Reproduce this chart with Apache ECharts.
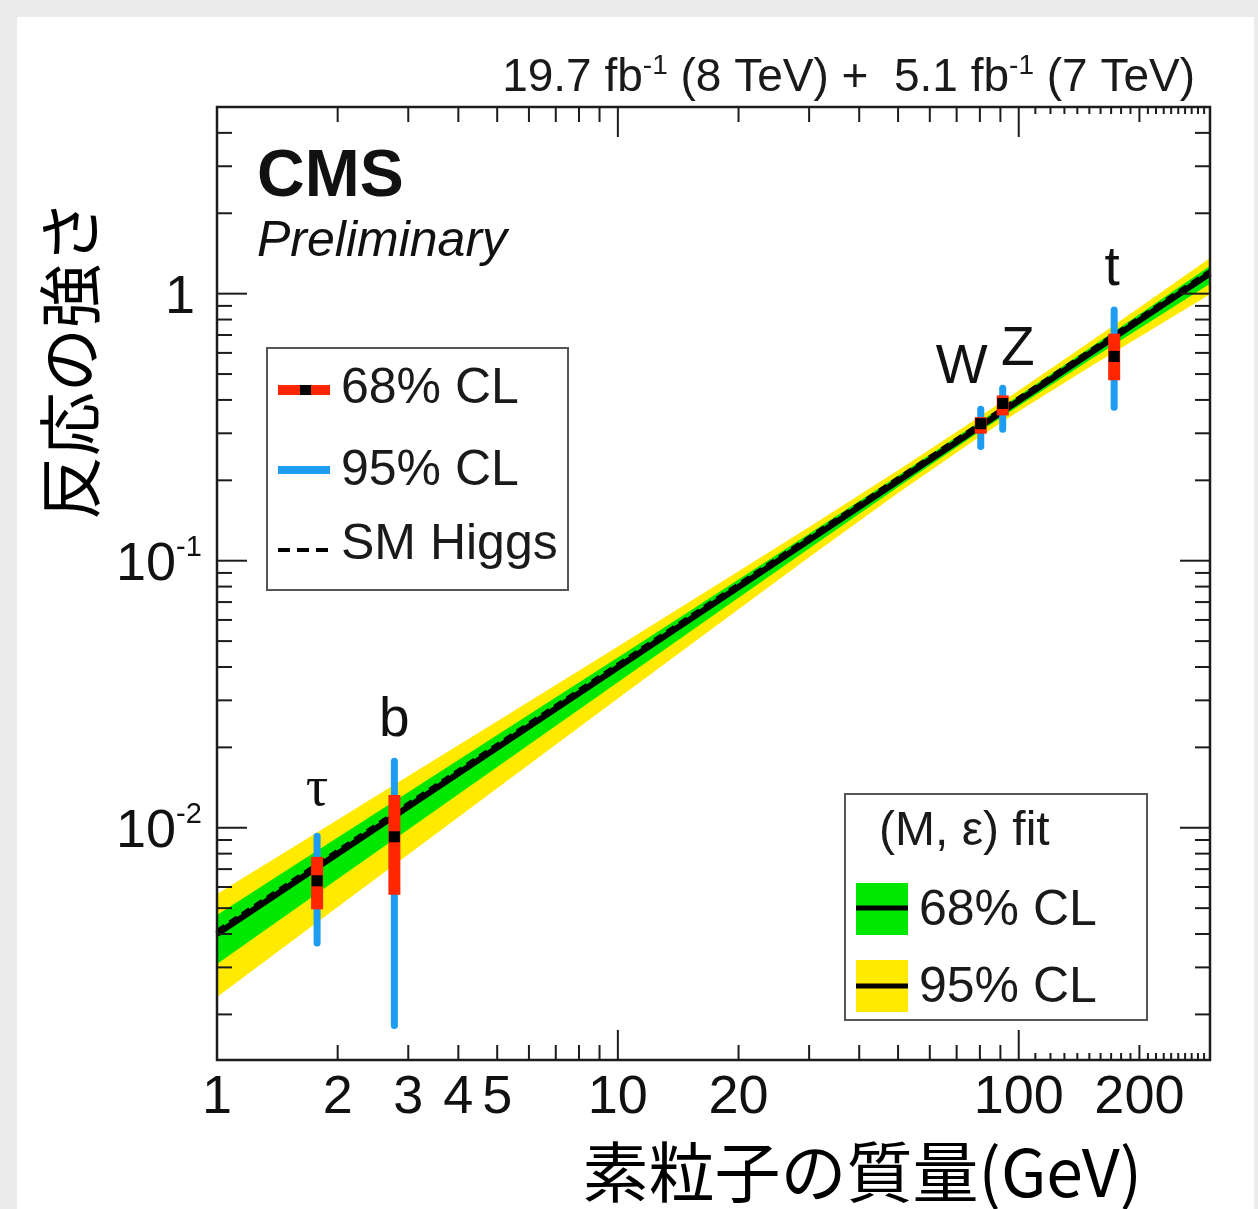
<!DOCTYPE html>
<html>
<head>
<meta charset="utf-8">
<script src="https://cdn.jsdelivr.net/npm/echarts@6/dist/echarts.min.js"></script>
<style>
  html, body { margin: 0; padding: 0; background: #ececec; }
  #panel { position: absolute; left: 17px; top: 17px; right: 4px; bottom: 0; background: #ffffff; }
  #chart { position: absolute; left: 0; top: 0; width: 1258px; height: 1209px; }
</style>
</head>
<body>
<div id="panel"></div>
<div id="chart"></div>
<script>
// ---- measured particles: mass (GeV) and reduced coupling with 68% / 95% intervals ----
const particles = ['τ', 'b', 'W', 'Z', 't'];
const masses    = [1.777, 2.77, 80.4, 91.2, 173];
const central   = [0.00633, 0.00925, 0.326, 0.388, 0.582];
const lo68      = [0.00495, 0.00561, 0.299, 0.350, 0.474];
const hi68      = [0.00778, 0.01325, 0.345, 0.416, 0.708];
const lo95      = [0.00361, 0.00177, 0.261, 0.303, 0.366];
const hi95      = [0.00953, 0.0182, 0.379, 0.454, 0.891];

// ---- (M, eps) fit: central line and confidence bands ----
const fitMass   = [1, 300];
const fitValue  = [0.0040, 1.19];
const smValue   = [0.00412, 1.22];   // SM Higgs expectation at the same masses

const bandMass  = [1, 2, 3, 5, 10, 20, 30, 50, 80, 100, 150, 200, 300];
const band95Hi  = [0.005646, 0.01072, 0.01561, 0.02505, 0.04772, 0.09124, 0.1338, 0.2182, 0.3465, 0.4337, 0.6573, 0.8870, 1.359];
const band68Hi  = [0.004711, 0.009189, 0.01359, 0.02225, 0.04345, 0.08504, 0.1262, 0.2082, 0.3318, 0.4150, 0.6252, 0.8381, 1.269];
const band68Lo  = [0.003088, 0.006422, 0.009850, 0.01689, 0.03506, 0.07267, 0.1112, 0.1889, 0.3045, 0.3796, 0.5626, 0.7407, 1.089];
const band95Lo  = [0.002324, 0.005049, 0.007944, 0.01407, 0.03049, 0.06587, 0.1030, 0.1793, 0.2916, 0.3627, 0.5301, 0.6882, 0.995];

// ---- axes ----
const X_MIN = 1, X_MAX = 300;
const Y_MIN = 0.00135, Y_MAX = 5;

const xMajorTicks = [10, 100];
const xMinorTicks = [2, 3, 4, 5, 6, 7, 8, 9, 20, 30, 40, 50, 60, 70, 80, 90, 200];
const xFineTicks  = [110, 120, 130, 140, 150, 160, 170, 180, 190, 210, 220, 230, 240, 250, 260, 270, 280, 290];
const yMajorTicks = [0.01, 0.1, 1];
const yMinorTicks = [0.002, 0.003, 0.004, 0.005, 0.006, 0.007, 0.008, 0.009,
                     0.02, 0.03, 0.04, 0.05, 0.06, 0.07, 0.08, 0.09,
                     0.2, 0.3, 0.4, 0.5, 0.6, 0.7, 0.8, 0.9, 2, 3, 4];

const xLabelValues = [1, 2, 3, 4, 5, 10, 20, 100, 200];
const xLabelTexts  = ['1', '2', '3', '4', '5', '10', '20', '100', '200'];
const yLabelValues = [0.01, 0.1, 1];
const yLabelBase   = ['10', '10', '1'];
const yLabelExp    = ['-2', '-1', ''];

// ---- styling ----
const SANS = '"Liberation Sans", Arial, Helvetica, sans-serif';
const SERIF = '"Liberation Serif", "Times New Roman", serif';
const CJK = '"Noto Sans CJK JP", "Noto Sans CJK SC", sans-serif';
const YELLOW = '#ffea00';
const GREEN = '#00e800';
const RED = '#ff2600';
const BLUE = '#1e9cf2';
const AXIS = '#1c1c1c';

// label placement relative to the top of each 95% bar
const labelOffset = { 'τ': [0, -43], 'b': [0, -37], 'W': [-19, -38], 'Z': [15, -35], 't': [-2, -37] };

function txt(style) {
  // keep both the zrender and the EC4-style alignment names
  if (style.align) style.textAlign = style.align;
  if (style.verticalAlign) style.textVerticalAlign = style.verticalAlign;
  return style;
}

function bandSeries(hi, lo, color, name) {
  return {
    type: 'custom', name: name, z: 2, silent: true,
    data: [[X_MIN, Y_MIN]],
    encode: { x: 0, y: 1 },
    renderItem: function (params, api) {
      const pts = [];
      for (let i = 0; i < bandMass.length; i++) pts.push(api.coord([bandMass[i], hi[i]]));
      for (let i = bandMass.length - 1; i >= 0; i--) pts.push(api.coord([bandMass[i], lo[i]]));
      return { type: 'polygon', shape: { points: pts }, style: { fill: color, stroke: null } };
    }
  };
}

function xTickSeries(values, len) {
  return {
    type: 'custom', z: 10, silent: true, clip: false,
    data: values.map(v => [v, Y_MIN]),
    encode: { x: 0, y: 1 },
    renderItem: function (params, api) {
      const cs = params.coordSys;
      const p = api.coord([api.value(0), Y_MIN]);
      const bottom = cs.y + cs.height;
      return {
        type: 'group', children: [
          { type: 'line', shape: { x1: p[0], y1: bottom, x2: p[0], y2: bottom - len }, style: { stroke: AXIS, lineWidth: 2 } },
          { type: 'line', shape: { x1: p[0], y1: cs.y, x2: p[0], y2: cs.y + len }, style: { stroke: AXIS, lineWidth: 2 } }
        ]
      };
    }
  };
}

function yTickSeries(values, len) {
  return {
    type: 'custom', z: 10, silent: true, clip: false,
    data: values.map(v => [X_MIN, v]),
    encode: { x: 0, y: 1 },
    renderItem: function (params, api) {
      const cs = params.coordSys;
      const p = api.coord([X_MIN, api.value(1)]);
      const right = cs.x + cs.width;
      return {
        type: 'group', children: [
          { type: 'line', shape: { x1: cs.x, y1: p[1], x2: cs.x + len, y2: p[1] }, style: { stroke: AXIS, lineWidth: 2 } },
          { type: 'line', shape: { x1: right, y1: p[1], x2: right - len, y2: p[1] }, style: { stroke: AXIS, lineWidth: 2 } }
        ]
      };
    }
  };
}

const option = {
  animation: false,
  backgroundColor: 'transparent',
  grid: { left: 217, top: 107, width: 993, height: 953, show: false },
  xAxis: {
    type: 'log', logBase: 10, min: X_MIN, max: X_MAX,
    axisLine: { show: false }, axisTick: { show: false }, axisLabel: { show: false }, splitLine: { show: false }
  },
  yAxis: {
    type: 'log', logBase: 10, min: Y_MIN, max: Y_MAX,
    axisLine: { show: false }, axisTick: { show: false }, axisLabel: { show: false }, splitLine: { show: false }
  },
  graphic: [
    // luminosity / energy header
    {
      type: 'text', z: 100, x: 1195, y: 78,
      style: txt({
        text: '19.7 fb{s|-1} (8 TeV) +  5.1 fb{s|-1} (7 TeV)',
        fontFamily: SANS, fontSize: 46, fill: '#1a1a1a', lineHeight: 52,
        align: 'right', verticalAlign: 'middle',
        rich: { s: { fontFamily: SANS, fontSize: 28, fill: '#1a1a1a', verticalAlign: 'top', lineHeight: 52 } }
      })
    },
    { type: 'text', z: 100, x: 257, y: 178, style: txt({ text: 'CMS', fontFamily: SANS, fontWeight: 'bold', fontSize: 66, fill: '#111', align: 'left', verticalAlign: 'middle' }) },
    { type: 'text', z: 100, x: 257, y: 242, style: txt({ text: 'Preliminary', fontFamily: SANS, fontStyle: 'italic', fontSize: 50, fill: '#111', align: 'left', verticalAlign: 'middle' }) },
    // axis titles
    { type: 'text', z: 100, x: 1142, y: 1172, style: txt({ text: '素粒子の質量(GeV)', fontFamily: CJK, fontSize: 66, fill: '#000', align: 'right', verticalAlign: 'middle' }) },
    { type: 'text', z: 100, x: 70, y: 360, rotation: Math.PI / 2, style: txt({ text: '反応の強さ', fontFamily: CJK, fontSize: 64, fill: '#000', align: 'center', verticalAlign: 'middle' }) },

    // legend: measurements
    { type: 'rect', z: 100, shape: { x: 267, y: 348, width: 301, height: 242 }, style: { fill: '#fff', stroke: '#555', lineWidth: 2 } },
    { type: 'line', z: 101, shape: { x1: 278, y1: 390, x2: 330, y2: 390 }, style: { stroke: RED, lineWidth: 10 } },
    { type: 'rect', z: 102, shape: { x: 300, y: 385, width: 11, height: 10 }, style: { fill: '#000' } },
    { type: 'text', z: 101, x: 341, y: 389, style: txt({ text: '68% CL', fontFamily: SANS, fontSize: 50, fill: '#1a1a1a', align: 'left', verticalAlign: 'middle' }) },
    { type: 'line', z: 101, shape: { x1: 278, y1: 470, x2: 330, y2: 470 }, style: { stroke: BLUE, lineWidth: 8 } },
    { type: 'text', z: 101, x: 341, y: 471, style: txt({ text: '95% CL', fontFamily: SANS, fontSize: 50, fill: '#1a1a1a', align: 'left', verticalAlign: 'middle' }) },
    { type: 'line', z: 101, shape: { x1: 278, y1: 550, x2: 330, y2: 550 }, style: { stroke: '#000', lineWidth: 4, lineDash: [12, 7] } },
    { type: 'text', z: 101, x: 341, y: 545, style: txt({ text: 'SM Higgs', fontFamily: SANS, fontSize: 50, fill: '#1a1a1a', align: 'left', verticalAlign: 'middle' }) },

    // legend: fit bands
    { type: 'rect', z: 100, shape: { x: 845, y: 794, width: 302, height: 226 }, style: { fill: '#fff', stroke: '#555', lineWidth: 2 } },
    { type: 'text', z: 101, x: 879, y: 832, style: txt({ text: '(M, ε) fit', fontFamily: SANS, fontSize: 48, fill: '#1a1a1a', align: 'left', verticalAlign: 'middle' }) },
    { type: 'rect', z: 101, shape: { x: 856, y: 883, width: 52, height: 52 }, style: { fill: GREEN } },
    { type: 'line', z: 102, shape: { x1: 856, y1: 908, x2: 908, y2: 908 }, style: { stroke: '#000', lineWidth: 5 } },
    { type: 'text', z: 101, x: 919, y: 911, style: txt({ text: '68% CL', fontFamily: SANS, fontSize: 50, fill: '#1a1a1a', align: 'left', verticalAlign: 'middle' }) },
    { type: 'rect', z: 101, shape: { x: 856, y: 960, width: 52, height: 52 }, style: { fill: YELLOW } },
    { type: 'line', z: 102, shape: { x1: 856, y1: 986, x2: 908, y2: 986 }, style: { stroke: '#000', lineWidth: 5 } },
    { type: 'text', z: 101, x: 919, y: 988, style: txt({ text: '95% CL', fontFamily: SANS, fontSize: 50, fill: '#1a1a1a', align: 'left', verticalAlign: 'middle' }) }
  ],
  series: [
    bandSeries(band95Hi, band95Lo, YELLOW, '95% band'),
    bandSeries(band68Hi, band68Lo, GREEN, '68% band'),
    {
      type: 'line', name: 'fit', z: 3, silent: true, symbol: 'none',
      data: fitMass.map((m, i) => [m, fitValue[i]]),
      lineStyle: { color: '#000', width: 6 }
    },
    {
      type: 'line', name: 'SM Higgs', z: 4, silent: true, symbol: 'none',
      data: fitMass.map((m, i) => [m, smValue[i]]),
      lineStyle: { color: '#000', width: 3.5, type: [9, 6] }
    },
    {
      type: 'custom', name: 'measurements', z: 5, silent: true, clip: false,
      data: particles.map((p, i) => [masses[i], lo95[i], hi95[i], lo68[i], hi68[i], central[i]]),
      encode: { x: 0, y: [1, 2, 3, 4, 5] },
      renderItem: function (params, api) {
        const m = api.value(0);
        const a = api.coord([m, api.value(1)]);
        const b = api.coord([m, api.value(2)]);
        const c = api.coord([m, api.value(3)]);
        const d = api.coord([m, api.value(4)]);
        const e = api.coord([m, api.value(5)]);
        const name = particles[params.dataIndex];
        const off = labelOffset[name];
        const isGreek = name === 'τ';
        return {
          type: 'group', children: [
            { type: 'line', shape: { x1: a[0], y1: a[1] - 3, x2: b[0], y2: b[1] + 3 }, style: { stroke: BLUE, lineWidth: 7, lineCap: 'round' } },
            { type: 'line', shape: { x1: c[0], y1: c[1], x2: d[0], y2: d[1] }, style: { stroke: RED, lineWidth: 12 } },
            { type: 'rect', shape: { x: e[0] - 5.5, y: e[1] - 5.5, width: 11, height: 11 }, style: { fill: '#000' } },
            {
              type: 'text', x: b[0] + off[0], y: b[1] + off[1],
              style: txt({ text: name, fontFamily: isGreek ? SERIF : SANS, fontSize: isGreek ? 56 : 55, fill: '#111', align: 'center', verticalAlign: 'middle' })
            }
          ]
        };
      }
    },
    // frame
    {
      type: 'custom', z: 11, silent: true, clip: false,
      data: [[X_MIN, Y_MIN]], encode: { x: 0, y: 1 },
      renderItem: function (params, api) {
        const cs = params.coordSys;
        return { type: 'rect', shape: { x: cs.x, y: cs.y, width: cs.width, height: cs.height }, style: { fill: null, stroke: AXIS, lineWidth: 2.5 } };
      }
    },
    xTickSeries(xMajorTicks, 30),
    xTickSeries(xMinorTicks, 15),
    xTickSeries(xFineTicks, 7),
    yTickSeries(yMajorTicks, 30),
    yTickSeries(yMinorTicks, 15),
    // x tick labels
    {
      type: 'custom', z: 11, silent: true, clip: false,
      data: xLabelValues.map(v => [v, Y_MIN]), encode: { x: 0, y: 1 },
      renderItem: function (params, api) {
        const cs = params.coordSys;
        const p = api.coord([api.value(0), Y_MIN]);
        return {
          type: 'text', x: p[0], y: cs.y + cs.height + 38,
          style: txt({ text: xLabelTexts[params.dataIndex], fontFamily: SANS, fontSize: 54, fill: '#111', align: 'center', verticalAlign: 'middle' })
        };
      }
    },
    // y tick labels (powers of ten with exponent)
    {
      type: 'custom', z: 11, silent: true, clip: false,
      data: yLabelValues.map(v => [X_MIN, v]), encode: { x: 0, y: 1 },
      renderItem: function (params, api) {
        const cs = params.coordSys;
        const p = api.coord([X_MIN, api.value(1)]);
        const i = params.dataIndex;
        const exp = yLabelExp[i];
        if (!exp) {
          return {
            type: 'text', x: cs.x - 22, y: p[1] + 4,
            style: txt({ text: yLabelBase[i], fontFamily: SANS, fontSize: 54, fill: '#111', align: 'right', verticalAlign: 'middle' })
          };
        }
        return {
          type: 'group', children: [
            { type: 'text', x: cs.x - 41, y: p[1] + 4, style: txt({ text: yLabelBase[i], fontFamily: SANS, fontSize: 54, fill: '#111', align: 'right', verticalAlign: 'middle' }) },
            { type: 'text', x: cs.x - 41, y: p[1] - 13, style: txt({ text: exp, fontFamily: SANS, fontSize: 29, fill: '#111', align: 'left', verticalAlign: 'middle' }) }
          ]
        };
      }
    }
  ]
};

const chart = echarts.init(document.getElementById('chart'), null, { renderer: 'canvas' });
chart.setOption(option);
</script>
</body>
</html>
